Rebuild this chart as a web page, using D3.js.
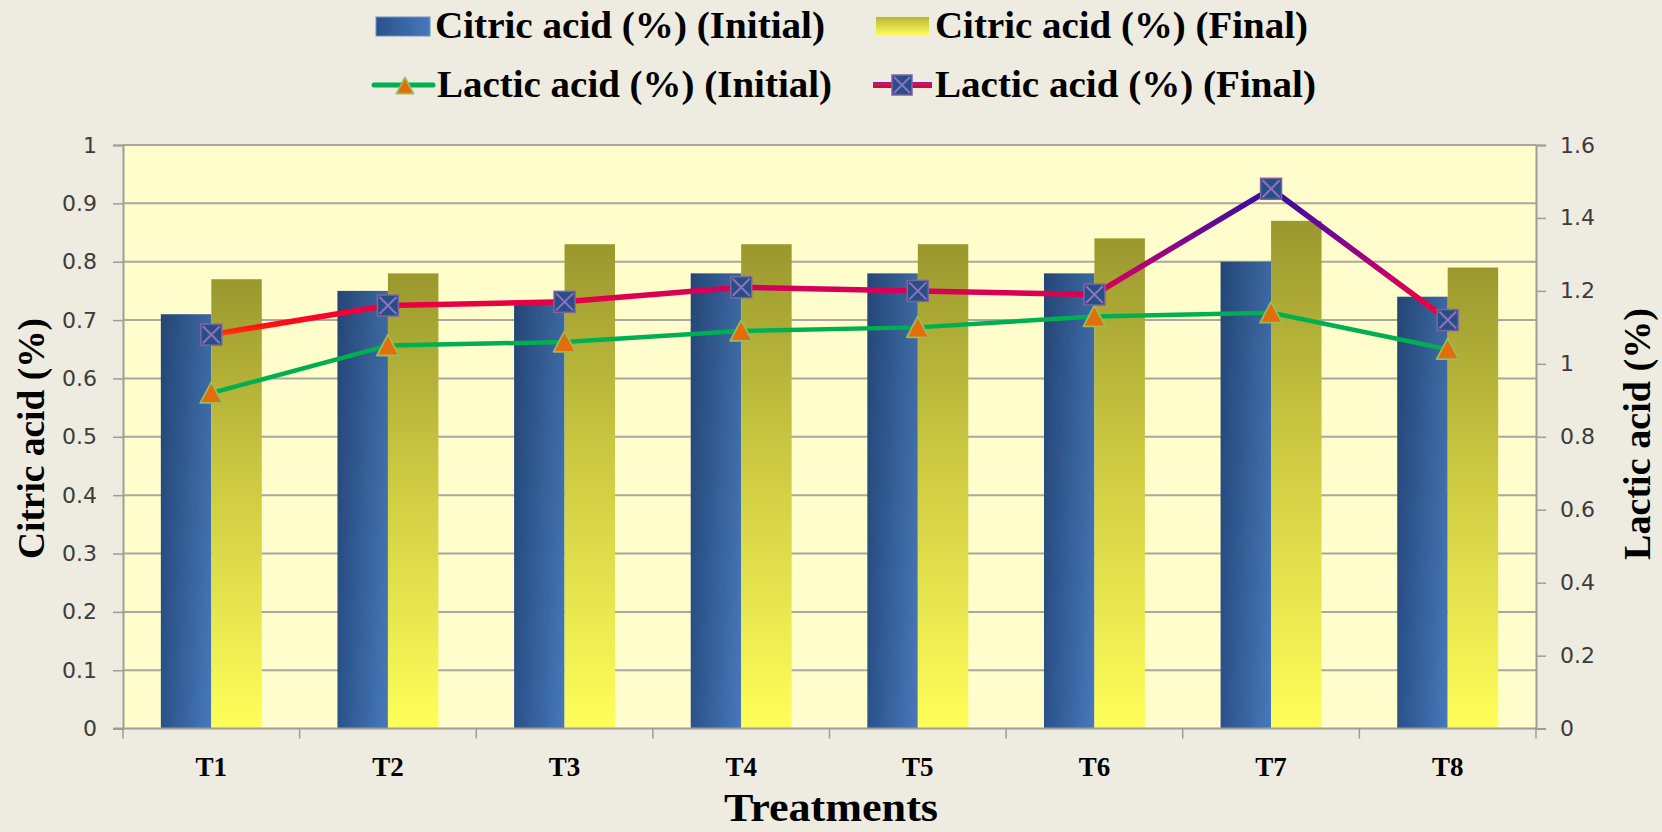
<!DOCTYPE html>
<html>
<head>
<meta charset="utf-8">
<script src="https://cdn.jsdelivr.net/npm/d3@7"></script>
<style>
  html, body { margin: 0; padding: 0; background: #EEEBE0; }
  svg { display: block; }
</style>
</head>
<body>
<svg id="chart" width="1662" height="832"></svg>
<script>
// Treatments and measured acidity values
const categories = ["T1", "T2", "T3", "T4", "T5", "T6", "T7", "T8"];
const citricInitial = [0.71, 0.75, 0.73, 0.78, 0.78, 0.78, 0.80, 0.74];
const citricFinal   = [0.77, 0.78, 0.83, 0.83, 0.83, 0.84, 0.87, 0.79];
const lacticInitial = [0.92, 1.05, 1.06, 1.09, 1.10, 1.13, 1.14, 1.04];
const lacticFinal   = [1.08, 1.16, 1.17, 1.21, 1.20, 1.19, 1.48, 1.12];
const citricTicks = [0, 0.1, 0.2, 0.3, 0.4, 0.5, 0.6, 0.7, 0.8, 0.9, 1];
const lacticTicks = [0, 0.2, 0.4, 0.6, 0.8, 1, 1.2, 1.4, 1.6];
const seriesNames = ["Initial", "Final"];

const svg = d3.select("#chart");
const W = 1662, H = 832;
const plot = { left: 123, right: 1536, top: 145, bottom: 728.6 };

svg.append("rect").attr("width", W).attr("height", H).attr("fill", "#EEEBE0");

const x = d3.scaleBand().domain(categories).range([plot.left, plot.right]).paddingInner(0).paddingOuter(0);
const xs = d3.scaleBand().domain(seriesNames).range([0, x.bandwidth()]).paddingInner(0).paddingOuter(0.75);
const yL = d3.scaleLinear().domain([0, 1]).range([plot.bottom, plot.top]);
const yR = d3.scaleLinear().domain([0, 1.6]).range([plot.bottom, plot.top]);

const defs = svg.append("defs");
function grad(id, x2, y2, stops) {
  const g = defs.append("linearGradient").attr("id", id)
    .attr("x1", 0).attr("y1", 0).attr("x2", x2).attr("y2", y2);
  stops.forEach(([o, c, op]) => g.append("stop").attr("offset", o).attr("stop-color", c).attr("stop-opacity", op == null ? 1 : op));
  return g;
}
grad("gInit", 1, 0, [[0, "#2A5189"], [1, "#4679BB"]]);
grad("gInitShade", 0, 1, [[0, "#000", 0.14], [1, "#000", 0]]);
grad("gFinal", 0, 1, [[0, "#9A982E"], [0.45, "#CDCA42"], [1, "#FFFF5A"]]);
grad("gFinalLegend", 0, 1, [[0, "#B9B72E"], [1, "#FFFF62"]]);
grad("gLineLegend", 0, 1, [[0, "#6E2AA8"], [0.35, "#E0105A"], [0.65, "#FF0000"], [1, "#3A3ACF"]]);

// Final lactic line colour shifts with height
const lg = defs.append("linearGradient").attr("id", "gLactic")
  .attr("gradientUnits", "userSpaceOnUse")
  .attr("x1", 0).attr("x2", 0).attr("y1", yR(1.5)).attr("y2", yR(1.06));
[[0, "#2A0E9A"], [0.3, "#6A0A96"], [0.6, "#C8006A"], [0.8, "#F0003A"], [0.9, "#FF1010"], [1, "#FF6010"]]
  .forEach(([o, c]) => lg.append("stop").attr("offset", o).attr("stop-color", c));

// Plot area
svg.append("rect")
  .attr("x", plot.left).attr("y", plot.top)
  .attr("width", plot.right - plot.left).attr("height", plot.bottom - plot.top)
  .attr("fill", "#FFFDCB");

// Horizontal gridlines on the citric scale
svg.append("g").selectAll("line").data(citricTicks.filter(d => d > 0)).join("line")
  .attr("x1", plot.left).attr("x2", plot.right)
  .attr("y1", d => yL(d)).attr("y2", d => yL(d))
  .attr("stroke", "#A9A8A0").attr("stroke-width", 2);

// Bars
const bars = svg.append("g");
categories.forEach((c, i) => {
  const x0 = x(c);
  bars.append("rect")
    .attr("x", x0 + xs("Initial")).attr("y", yL(citricInitial[i]))
    .attr("width", xs.bandwidth()).attr("height", yL(0) - yL(citricInitial[i]))
    .attr("fill", "url(#gInit)");
  bars.append("rect")
    .attr("x", x0 + xs("Initial")).attr("y", yL(citricInitial[i]))
    .attr("width", xs.bandwidth()).attr("height", yL(0) - yL(citricInitial[i]))
    .attr("fill", "url(#gInitShade)");
  bars.append("rect")
    .attr("x", x0 + xs("Final")).attr("y", yL(citricFinal[i]))
    .attr("width", xs.bandwidth()).attr("height", yL(0) - yL(citricFinal[i]))
    .attr("fill", "url(#gFinal)");
});

// Axes
const axisColor = "#9E9E96";
const tickFont = "'DejaVu Sans', Verdana, sans-serif";

const leftAxis = svg.append("g").attr("transform", `translate(${plot.left},0)`)
  .call(d3.axisLeft(yL).tickValues(citricTicks).tickSize(10).tickPadding(16).tickFormat(d3.format("")));
const rightAxis = svg.append("g").attr("transform", `translate(${plot.right},0)`)
  .call(d3.axisRight(yR).tickValues(lacticTicks).tickSize(10).tickPadding(14).tickFormat(d3.format("")));
[leftAxis, rightAxis].forEach(a => {
  a.select(".domain").attr("stroke", axisColor).attr("stroke-width", 2);
  a.selectAll(".tick line").attr("stroke", axisColor).attr("stroke-width", 1.5);
  a.selectAll(".tick text").attr("fill", "#3C3C3C").style("font-family", tickFont).style("font-size", "22px");
});

const bottomAxis = svg.append("g").attr("transform", `translate(0,${plot.bottom})`)
  .call(d3.axisBottom(x).tickSize(0).tickPadding(28));
bottomAxis.select(".domain").remove();
bottomAxis.selectAll(".tick text")
  .attr("fill", "#000").style("font-family", "'Liberation Serif', 'Times New Roman', serif")
  .style("font-size", "27px").style("font-weight", "bold");
svg.append("line").attr("x1", plot.left - 10).attr("x2", plot.right)
  .attr("y1", plot.bottom).attr("y2", plot.bottom)
  .attr("stroke", axisColor).attr("stroke-width", 2);
svg.append("g").selectAll("line")
  .data(categories.map(c => x(c)).concat([x.range()[1]])).join("line")
  .attr("x1", d => d).attr("x2", d => d)
  .attr("y1", plot.bottom).attr("y2", plot.bottom + 10)
  .attr("stroke", axisColor).attr("stroke-width", 1.5);

// Lactic acid lines
const cx = c => x(c) + x.bandwidth() / 2;
const lineInit = d3.line().x((d, i) => cx(categories[i])).y(d => yR(d));
svg.append("path").datum(lacticInitial).attr("d", lineInit)
  .attr("fill", "none").attr("stroke", "#00B050").attr("stroke-width", 4.5).attr("stroke-linejoin", "round");
svg.append("path").datum(lacticFinal).attr("d", lineInit)
  .attr("fill", "none").attr("stroke", "url(#gLactic)").attr("stroke-width", 5.5).attr("stroke-linejoin", "round");

function triangle(g, px, py, s) {
  const h = s * 0.9;
  g.append("path")
    .attr("d", `M${px},${py - h / 2 - 1}L${px + s / 2},${py + h / 2}L${px - s / 2},${py + h / 2}Z`)
    .attr("fill", "#E46C0A").attr("stroke", "#9BBB59").attr("stroke-width", 1.8).attr("stroke-linejoin", "round");
}
function crossSquare(g, px, py, s) {
  const h = s / 2;
  g.append("rect").attr("x", px - h).attr("y", py - h).attr("width", s).attr("height", s)
    .attr("fill", "#274F86").attr("stroke", "#8064A2").attr("stroke-width", 1.5);
  g.append("path").attr("d", `M${px - h + 2},${py - h + 2}L${px + h - 2},${py + h - 2}M${px + h - 2},${py - h + 2}L${px - h + 2},${py + h - 2}`)
    .attr("stroke", "#9070C0").attr("stroke-width", 2);
}
const markers = svg.append("g");
lacticInitial.forEach((v, i) => triangle(markers, cx(categories[i]), yR(v), 22));
lacticFinal.forEach((v, i) => crossSquare(markers, cx(categories[i]), yR(v), 21));

// Axis titles
const serif = "'Liberation Serif', 'Times New Roman', serif";
svg.append("text").attr("transform", "translate(44,438.5) rotate(-90)")
  .attr("text-anchor", "middle").attr("textLength", 241).attr("lengthAdjust", "spacingAndGlyphs")
  .style("font-family", serif).style("font-size", "37px").style("font-weight", "bold")
  .text("Citric acid (%)");
svg.append("text").attr("transform", "translate(1650,434) rotate(-90)")
  .attr("text-anchor", "middle").attr("textLength", 252).attr("lengthAdjust", "spacingAndGlyphs")
  .style("font-family", serif).style("font-size", "37px").style("font-weight", "bold")
  .text("Lactic acid (%)");
svg.append("text").attr("x", 831).attr("y", 821)
  .attr("text-anchor", "middle").attr("textLength", 214).attr("lengthAdjust", "spacingAndGlyphs")
  .style("font-family", serif).style("font-size", "40px").style("font-weight", "bold")
  .text("Treatments");

// Legend
const legend = svg.append("g");
function legendText(xp, yp, len, label) {
  legend.append("text").attr("x", xp).attr("y", yp)
    .attr("textLength", len).attr("lengthAdjust", "spacingAndGlyphs")
    .style("font-family", serif).style("font-size", "37px").style("font-weight", "bold")
    .text(label);
}
legend.append("rect").attr("x", 376).attr("y", 17).attr("width", 54).attr("height", 19)
  .attr("fill", "url(#gInit)").attr("stroke", "#6F93C8").attr("stroke-width", 1);
legendText(435, 38, 390, "Citric acid (%) (Initial)");
legend.append("rect").attr("x", 876).attr("y", 17).attr("width", 53).attr("height", 19)
  .attr("fill", "url(#gFinalLegend)");
legendText(935, 38, 373, "Citric acid (%) (Final)");

legend.append("line").attr("x1", 374).attr("x2", 433).attr("y1", 85).attr("y2", 85)
  .attr("stroke", "#00B050").attr("stroke-width", 5).attr("stroke-linecap", "round");
triangle(legend, 405, 86, 17);
legendText(437, 97, 395, "Lactic acid (%) (Initial)");
legend.append("rect").attr("x", 873).attr("y", 82).attr("width", 59).attr("height", 6)
  .attr("fill", "url(#gLineLegend)");
crossSquare(legend, 902, 85, 20);
legendText(935, 97, 381, "Lactic acid (%) (Final)");
</script>
</body>
</html>
